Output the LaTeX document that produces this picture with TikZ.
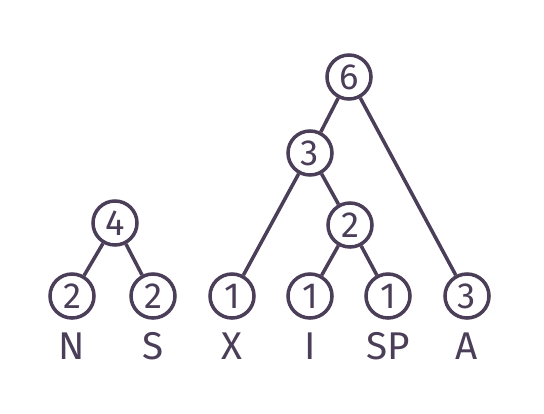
\documentclass[tikz,border=0pt]{standalone}
\usepackage{fontspec}
\setmainfont{Fira Sans}
\usepackage{xcolor}
\definecolor{ink}{RGB}{75,62,88}

\begin{document}
\begin{tikzpicture}[x=0.03cm, y=-0.03cm, color=ink, line width=3pt,
    count/.style={draw, circle, minimum size=1.32cm, inner sep=0pt, font=\fontsize{31}{33}\selectfont},
    sym/.style={inner sep=0pt, font=\fontsize{33}{35}\selectfont}]
    \useasboundingbox (0,0) rectangle (544,413);

    % Small tree
    \node[count] (n4) at (115,223) {4};
    \node[count] (lN) at (72,296) {2};
    \node[count] (lS) at (153,296) {2};

    % Big tree
    \node[count] (n6) at (349,77) {6};
    \node[count] (n3) at (310,153) {3};
    \node[count] (n2) at (350,225) {2};
    \node[count] (lX) at (232,296) {1};
    \node[count] (lI) at (310,296) {1};
    \node[count] (lSP) at (388,296) {1};
    \node[count] (lA) at (467,296) {3};

    % Symbols
    \node[sym] (tN) at (72,346) {N};
    \node[sym] (tS) at (153,346) {S};
    \node[sym] (tX) at (232,346) {X};
    \node[sym] (tI) at (310,346) {I};
    \node[sym] (tSP) at (388,346) {SP};
    \node[sym] (tA) at (467,346) {A};

    % Connections
    \draw (n4) -- (lN);
    \draw (n4) -- (lS);
    \draw (n6) -- (n3);
    \draw (n6) -- (lA);
    \draw (n3) -- (lX);
    \draw (n3) -- (n2);
    \draw (n2) -- (lI);
    \draw (n2) -- (lSP);
\end{tikzpicture}
\end{document}
